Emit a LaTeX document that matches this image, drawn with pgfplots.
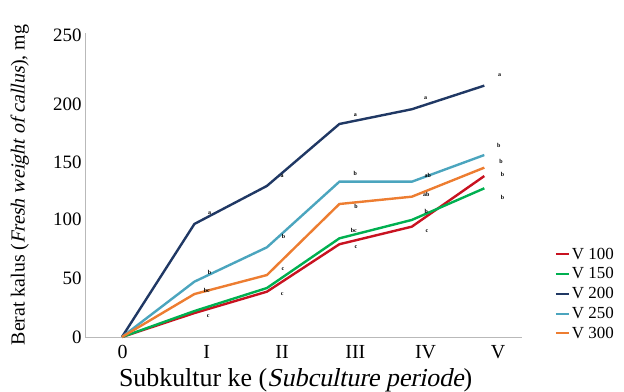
\documentclass[border=0pt]{standalone}
\usepackage{pgfplots}
\pgfplotsset{compat=1.18}
\usepackage{fontspec}
\setmainfont{Liberation Serif}[ItalicFont={Liberation Serif}, ItalicFeatures={FakeSlant=0.21}]
\definecolor{cred}{RGB}{200,18,32}
\definecolor{cgreen}{RGB}{0,176,80}
\definecolor{cnavy}{RGB}{32,56,100}
\definecolor{cteal}{RGB}{75,165,190}
\definecolor{corange}{RGB}{237,125,49}
\definecolor{caxis}{RGB}{185,185,185}
\begin{document}
\begin{tikzpicture}
\begin{axis}[
  scale only axis, width=437bp, height=304bp,
  xmin=-0.51, xmax=5.52, ymin=0, ymax=257.6,
  axis x line*=bottom, axis y line*=left,
  axis line style={draw=caxis, line width=0.8bp},
  xtick={0.01,1.17,2.21,3.22,4.19,5.19},
  xticklabels={0,I,II,III,IV,V},
  ytick={0,50,100,148,197,256},
  yticklabels={0,50,100,150,200,250},
  major tick length=0pt,
  tick style={draw=none},
  xticklabel style={font=\fontsize{20}{24}\selectfont, anchor=base, yshift=-21bp},
  yticklabel style={font=\fontsize{19}{23}\selectfont},
  xlabel={Subkultur ke (\textit{Subculture periode})},
  xlabel style={font=\fontsize{26}{30}\selectfont, at={(axis description cs:0.482,-0.141)}, anchor=center},
  ylabel={Berat kalus (\textit{Fresh weight of callus}), mg},
  ylabel style={font=\fontsize{20}{24}\selectfont, at={(axis description cs:-0.149,0.5)}, anchor=center},
  legend style={at={(rel axis cs:1.075,0.30)}, anchor=north west, draw=none, fill=none,
    font=\fontsize{17}{19}\selectfont, row sep=3bp, inner sep=0pt},
  legend cell align=left,
  legend image code/.code={\draw[#1, line width=2bp] (0bp,0bp) -- (13bp,0bp);},
  every axis plot/.append style={line width=2.4bp, mark=none},
  clip=false,
]
\addplot[cred] coordinates {(0,0) (1,20.3) (2,38.4) (3,78.6) (4,93.5) (5,136.4)};
\addlegendentry{V 100}
\addplot[cgreen] coordinates {(0,0) (1,22) (2,41.5) (3,83.6) (4,99.2) (5,126)};
\addlegendentry{V 150}
\addplot[cnavy] coordinates {(0,0) (1,95.8) (2,128) (3,180.5) (4,193) (5,213)};
\addlegendentry{V 200}
\addplot[cteal] coordinates {(0,0) (1,46.9) (2,76) (3,131.6) (4,131.6) (5,154.2)};
\addlegendentry{V 250}
\addplot[corange] coordinates {(0,0) (1,36.4) (2,52.5) (3,112.7) (4,118.9) (5,143.5)};
\addlegendentry{V 300}
\begin{scope}[every node/.style={font=\bfseries\fontsize{6}{6}\selectfont, inner sep=0pt}]
\node at (axis cs:1.21,105.3) {a};
\node at (axis cs:1.21,54.5) {b};
\node at (axis cs:1.17,39.2) {bc};
\node at (axis cs:1.19,17.8) {c};
\node at (axis cs:2.21,136) {a};
\node at (axis cs:2.23,85) {b};
\node at (axis cs:2.22,57.6) {c};
\node at (axis cs:2.21,36.2) {c};
\node at (axis cs:3.22,188.1) {a};
\node at (axis cs:3.22,138.7) {b};
\node at (axis cs:3.23,110.4) {b};
\node at (axis cs:3.20,90.7) {bc};
\node at (axis cs:3.23,76.5) {c};
\node at (axis cs:4.19,202.3) {a};
\node at (axis cs:4.22,137.3) {ab};
\node at (axis cs:4.20,120.9) {ab};
\node at (axis cs:4.20,106.8) {b};
\node at (axis cs:4.21,89.8) {c};
\node at (axis cs:5.21,222) {a};
\node at (axis cs:5.20,162.1) {b};
\node at (axis cs:5.23,148.6) {b};
\node at (axis cs:5.25,138.1) {b};
\node at (axis cs:5.25,118) {b};
\end{scope}
\end{axis}
\pgfresetboundingbox
\path (current axis.south west) ++(-85bp,-55bp) rectangle ++(624bp,392bp);
\end{tikzpicture}
\end{document}
